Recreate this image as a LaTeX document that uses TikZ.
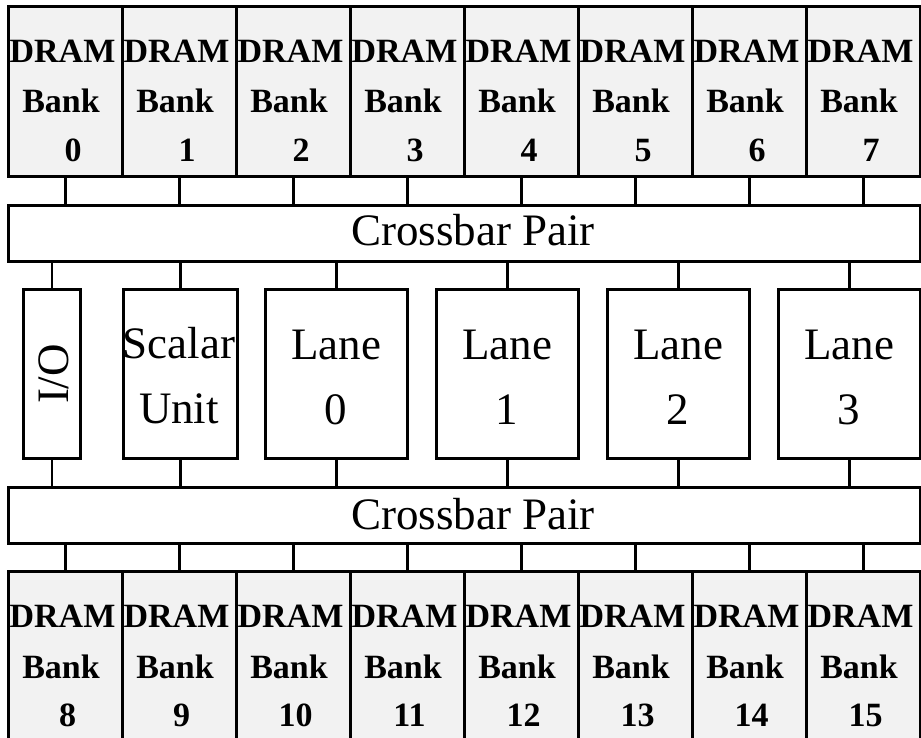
\documentclass[tikz,border=0pt]{standalone}
\usepackage{fontspec}
\setmainfont{Liberation Serif}
\definecolor{bankfill}{RGB}{242,242,242}
\begin{document}
\begin{tikzpicture}[x=1pt,y=-1pt,line width=2.6pt,
  bank/.style={draw,fill=bankfill,minimum width=114pt,minimum height=170pt,inner sep=0pt,anchor=north west},
  xbar/.style={draw,fill=white,minimum width=912pt,minimum height=56pt,inner sep=0pt,anchor=north west},
  unit/.style={draw,fill=white,minimum height=169pt,inner sep=0pt,anchor=north west},
  btxt/.style={inner sep=0pt,anchor=base,font=\fontsize{34}{40}\selectfont\bfseries},
  rtxt/.style={inner sep=0pt,anchor=base,font=\fontsize{45}{52}\selectfont},
  wire/.style={draw,line width=2.6pt}]
\useasboundingbox (0,0) rectangle (921,738);
\clip (0,0) rectangle (921,738);
% top banks
\foreach \i in {0,...,7}{
  \pgfmathsetmacro{\bx}{7+114*\i}
  \node[bank] (tb\i) at (\bx,5) {};
  \node[btxt] (tb\i d) at (\bx+55.5,63) {DRAM};
  \node[btxt] (tb\i b) at (\bx+54,113) {Bank};
  \node[btxt] (tb\i n) at (\bx+66,162) {\i};
}
% bottom banks
\foreach \i in {8,...,15}{
  \pgfmathsetmacro{\bx}{7+114*(\i-8)}
  \node[bank] (bb\i) at (\bx,570) {};
  \node[btxt] (bb\i d) at (\bx+55.5,627) {DRAM};
  \node[btxt] (bb\i b) at (\bx+54,678) {Bank};
  \node[btxt] (bb\i n) at (\bx+60.5,726) {\i};
}
% crossbars
\node[xbar] (xb1) at (7,204) {};
\node[rtxt] (xb1t) at (473,245) {Crossbar Pair};
\node[xbar] (xb2) at (7,486) {};
\node[rtxt] (xb2t) at (473,529) {Crossbar Pair};
% units
\node[unit,minimum width=57pt] (io) at (22,288) {};
\node[rtxt,rotate=90] (iot) at (68,374) {I/O};
\node[unit,minimum width=114pt] (su) at (122,288) {};
\node[rtxt] (su1) at (179,358) {Scalar};
\node[rtxt] (su2) at (179,423) {Unit};
\foreach \k in {0,...,3}{
  \pgfmathsetmacro{\lx}{264+171*\k}
  \node[unit,minimum width=142pt] (ln\k) at (\lx,288) {};
  \node[rtxt] (ln\k a) at (\lx+72,359) {Lane};
  \node[rtxt] (ln\k b) at (\lx+72,424) {\k};
}
% wires
\foreach \i in {0,...,7}{
  \draw[wire] (tb\i.south) -- (tb\i.south |- xb1.north);
}
\foreach \i in {8,...,15}{
  \draw[wire] (bb\i.north |- xb2.south) -- (bb\i.north);
}
\foreach \u in {io,su,ln0,ln1,ln2,ln3}{
  \draw[wire] (\u.north |- xb1.south) -- (\u.north);
  \draw[wire] (\u.south) -- (\u.south |- xb2.north);
}
\end{tikzpicture}
\end{document}
